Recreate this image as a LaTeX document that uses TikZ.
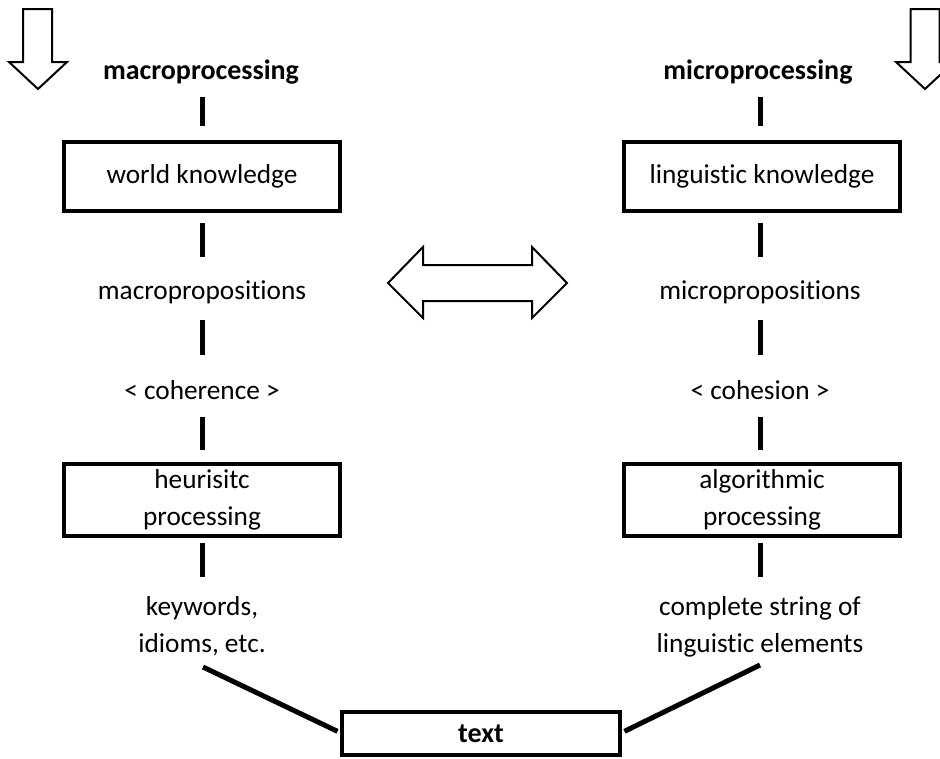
\documentclass[tikz,border=0pt]{standalone}
\usepackage{fontspec}
\setmainfont[Ligatures=NoCommon]{Carlito}
\begin{document}
\begin{tikzpicture}[x=1pt,y=-1pt,
  every node/.style={font=\fontsize{27.3}{37}\selectfont, align=center},
  boldtext/.style={font=\fontsize{28}{37}\selectfont\bfseries},
  box/.style={draw, line width=4pt, inner sep=0pt, outer sep=0pt, minimum width=276pt},
  lbl/.style={inner sep=0pt, outer sep=0pt},
  bar/.style={line width=5pt},
  diag/.style={line width=5pt},
  hollow/.style={draw, line width=2pt, fill=white, line join=miter}]
\clip (0,0) rectangle (940,758);
\fill[white] (0,0) rectangle (940,758);

% hollow arrows
\path[hollow] (23,9) -- (52,9) -- (52,62) -- (67,62) -- (38,89) -- (9,62) -- (23,62) -- cycle;
\path[hollow] (910.5,9) -- (939.5,9) -- (939.5,62) -- (954,62) -- (925,89) -- (896,62) -- (910.5,62) -- cycle;
\path[hollow] (388,283) -- (423,247) -- (423,265) -- (532,265) -- (532,247) -- (567,283)
  -- (532,318) -- (532,301) -- (423,301) -- (423,318) -- cycle;

% left column
\node[lbl, boldtext] (macro) at (201,72) {macroprocessing};
\node[box, minimum height=69pt] (wk) at (202,176.5) {world knowledge};
\node[lbl] (macroprop) at (202,292) {macropropositions};
\node[lbl] (coh) at (202,390) {< coherence >};
\node[box, minimum height=72pt] (heur) at (202,500) {heurisitc\\processing};
\node[lbl] (kw) at (202,626.5) {keywords,\\idioms, etc.};

% right column
\node[lbl, boldtext] (micro) at (758,72) {microprocessing};
\node[box, minimum height=69pt] (lk) at (762,176.5) {linguistic knowledge};
\node[lbl] (microprop) at (760,292) {micropropositions};
\node[lbl] (coh2) at (760,390) {< cohesion >};
\node[box, minimum height=72pt] (alg) at (762,500) {algorithmic\\processing};
\node[lbl] (cs) at (760,626.5) {complete string of\\linguistic elements};

% text box
\node[box, minimum width=278pt, minimum height=43pt, boldtext] (txt) at (481,733.5) {text};

% bars left
\draw[bar, shorten <=25pt, shorten >=16pt] (coh |- macro.center) -- (coh |- wk.north);
\draw[bar, shorten <=12pt, shorten >=35pt] (coh |- wk.south) -- (macroprop.center);
\draw[bar, shorten <=28pt, shorten >=35pt] (macroprop.center) -- (coh.center);
\draw[bar, shorten <=27pt, shorten >=14pt] (coh.center) -- (coh |- heur.north);
\draw[bar, shorten <=7pt, shorten >=49.5pt] (coh |- heur.south) -- (kw.center);

% bars right
\draw[bar, shorten <=25pt, shorten >=16pt] (coh2 |- micro.center) -- (coh2 |- lk.north);
\draw[bar, shorten <=12pt, shorten >=35pt] (coh2 |- lk.south) -- (microprop.center);
\draw[bar, shorten <=28pt, shorten >=35pt] (microprop.center) -- (coh2.center);
\draw[bar, shorten <=27pt, shorten >=14pt] (coh2.center) -- (coh2 |- alg.north);
\draw[bar, shorten <=7pt, shorten >=49.5pt] (coh2 |- alg.south) -- (cs.center);

% diagonals
\coordinate (kwtail) at (203,667);
\coordinate (cstail) at (760,665);
\draw[diag, shorten >=5pt] (kwtail) -- (txt.west);
\draw[diag, shorten >=5pt] (cstail) -- (txt.east);
\end{tikzpicture}
\end{document}
